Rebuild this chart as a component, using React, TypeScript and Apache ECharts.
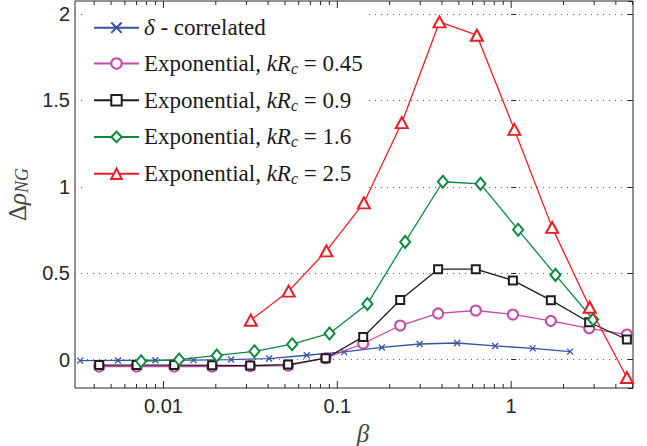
import React, { useEffect, useRef } from 'react';
import * as echarts from 'echarts';

// ---- data (β values and Δρ_NG values) ----
const seriesNames = [
  'δ - correlated',
  'Exponential, kRc = 0.45',
  'Exponential, kRc = 0.9',
  'Exponential, kRc = 1.6',
  'Exponential, kRc = 2.5',
];

const deltaBeta = [0.00332, 0.00548, 0.00899, 0.01489, 0.02451, 0.04055, 0.0667, 0.1094, 0.1804, 0.2977, 0.489, 0.809, 1.329, 2.184];
const deltaVals = [-0.006, -0.005, -0.004, -0.003, 0.0, 0.006, 0.025, 0.044, 0.07, 0.09, 0.096, 0.079, 0.065, 0.046];

const exp045Beta = [0.00427, 0.00701, 0.01153, 0.01906, 0.03155, 0.05212, 0.0857, 0.1409, 0.23, 0.38, 0.626, 1.023, 1.691, 2.81, 4.63];
const exp045Vals = [-0.04, -0.04, -0.04, -0.04, -0.038, -0.035, 0.008, 0.093, 0.197, 0.267, 0.284, 0.261, 0.224, 0.181, 0.145];

const exp09Beta = [0.00427, 0.00701, 0.01153, 0.01906, 0.03155, 0.05212, 0.0857, 0.1409, 0.23, 0.38, 0.626, 1.023, 1.691, 2.81, 4.63];
const exp09Vals = [-0.032, -0.032, -0.032, -0.033, -0.035, -0.029, 0.008, 0.131, 0.345, 0.523, 0.523, 0.458, 0.344, 0.216, 0.116];

const exp16Beta = [0.00744, 0.01231, 0.02027, 0.03337, 0.055, 0.0902, 0.149, 0.2457, 0.4047, 0.666, 1.097, 1.798, 2.963];
const exp16Vals = [-0.01, 0.0, 0.024, 0.048, 0.089, 0.151, 0.322, 0.681, 1.029, 1.017, 0.751, 0.49, 0.232];

const exp25Beta = [0.0318, 0.0525, 0.0866, 0.1422, 0.235, 0.387, 0.635, 1.043, 1.72, 2.83, 4.63];
const exp25Vals = [0.228, 0.396, 0.629, 0.907, 1.371, 1.954, 1.877, 1.332, 0.765, 0.303, -0.104];

// axis ranges
const xMinBeta = 0.0031;
const xMaxBeta = 5.02;
const yMin = -0.1645;
const yMax = 2.075;
const yTickStep = 0.5;
const xDecades = [0.001, 0.01, 0.1, 1];
const xMinorMultipliers = [2, 3, 4, 5, 6, 7, 8, 9];

const colors = ['#3553a5', '#c449a8', '#1e1e1e', '#0c8a3e', '#ee1d25'];

const toXY = (betas: number[], vals: number[]) => betas.map((b, i) => [Math.log10(b), vals[i]]);

export default function App() {
  const ref = useRef<HTMLDivElement>(null);

  useEffect(() => {
    if (!ref.current) return;
    const chart = echarts.init(ref.current, undefined, { renderer: 'svg' });

    const xMin = Math.log10(xMinBeta);
    const xMax = Math.log10(xMaxBeta);

    const tickData: number[][] = [];
    xDecades.forEach((d) => {
      const lv = Math.log10(d);
      if (lv >= xMin && lv <= xMax) tickData.push([lv, 0, 1]);
      xMinorMultipliers.forEach((m) => {
        const v = Math.log10(d * m);
        if (v >= xMin && v <= xMax) tickData.push([v, 0, 0]);
      });
    });

    const serif = 'Liberation Serif';
    const sans = 'Liberation Sans';
    const tickColor = '#262626';

    const lineSeries = (name: string, data: number[][], color: string, symbol: string, symbolSize: any, z: number) => ({
      name,
      type: 'line',
      data,
      symbol,
      symbolSize,
      z,
      lineStyle: { color, width: 1.3 },
      itemStyle: { color, borderColor: color, borderWidth: 1.3 },
      emphasis: { disabled: true },
    });

    const option: any = {
      animation: false,
      grid: {
        left: 75,
        right: 14,
        top: 1,
        bottom: 58,
        show: true,
        borderColor: tickColor,
        borderWidth: 1,
        backgroundColor: 'transparent',
        containLabel: false,
        outerBoundsMode: 'none',
      },
      legend: {
        data: seriesNames,
        orient: 'vertical',
        left: 82,
        top: 9,
        padding: [6.7, 4, 11, 11],
        backgroundColor: '#fff',
        itemWidth: 45,
        itemHeight: 13,
        itemGap: 10.75,
        selectedMode: false,
        formatter: (name: string) =>
          name.replace('δ', '{i|δ}').replace('kRc', '{i|kR}{s|c}'),
        textStyle: {
          fontFamily: serif,
          fontSize: 23,
          color: '#1a1a1a',
          lineHeight: 24,
          rich: {
            i: { fontFamily: serif, fontStyle: 'italic', fontSize: 23, lineHeight: 24, color: '#1a1a1a' },
            s: { fontFamily: serif, fontStyle: 'italic', fontSize: 16, lineHeight: 12, padding: [10, 0, 0, 0], color: '#1a1a1a' },
          },
        },
      },
      xAxis: {
        type: 'value',
        min: xMin,
        max: xMax,
        name: 'β',
        nameLocation: 'middle',
        nameGap: 25,
        nameTextStyle: {
          fontFamily: serif,
          fontStyle: 'italic',
          fontSize: 25,
          color: '#444',
          padding: [0, 0, 0, 18],
        },
        axisLine: { show: false },
        axisTick: { show: false },
        splitLine: { show: false },
        axisLabel: {
          fontFamily: sans,
          fontSize: 20,
          color: tickColor,
          margin: 8,
          showMinLabel: false,
          showMaxLabel: false,
          formatter: (v: number) => {
            if (Math.abs(v - Math.round(v)) > 1e-6) return '';
            const r = Math.round(v);
            return String(parseFloat(Math.pow(10, r).toPrecision(6)));
          },
        },
      },
      yAxis: [
        {
          type: 'value',
          min: yMin,
          max: yMax,
          name: '{d|Δ}{r|ρ}{s|NG}',
          nameLocation: 'middle',
          nameGap: 36,
          nameTextStyle: {
            color: '#444',
            rich: {
              d: { fontFamily: serif, fontSize: 25, lineHeight: 30, color: '#444' },
              r: { fontFamily: serif, fontStyle: 'italic', fontSize: 25, lineHeight: 30, color: '#444' },
              s: { fontFamily: serif, fontStyle: 'italic', fontSize: 18, lineHeight: 16, padding: [10, 0, 0, 0], color: '#444' },
            },
          },
          axisLine: { show: false },
          axisTick: { show: true, inside: true, length: 5, lineStyle: { color: tickColor } },
          splitLine: {
            show: true,
            showMinLine: false,
            showMaxLine: false,
            lineStyle: { color: '#666', width: 1, type: [1, 5] },
          },
          axisLabel: {
            fontFamily: sans,
            fontSize: 20,
            color: tickColor,
            margin: 5,
            showMinLabel: false,
            showMaxLabel: false,
            formatter: (v: number) => {
              const k = v / yTickStep;
              if (Math.abs(k - Math.round(k)) > 1e-6) return '';
              return String(parseFloat((Math.round(k) * yTickStep).toFixed(2)));
            },
          },
        },
        {
          type: 'value',
          min: yMin,
          max: yMax,
          position: 'right',
          axisLine: { show: false },
          axisTick: { show: true, inside: true, length: 5, lineStyle: { color: tickColor } },
          splitLine: { show: false },
          axisLabel: { show: false },
        },
      ],
      series: [
        {
          type: 'custom',
          silent: true,
          clip: false,
          z: 1,
          data: tickData,
          encode: { x: 0, y: 1 },
          renderItem: (params: any, api: any) => {
            const cs = params.coordSys;
            const px = api.coord([api.value(0), 0])[0];
            const len = api.value(2) ? 7 : 4;
            const bottom = cs.y + cs.height;
            const top = cs.y;
            const style = { stroke: tickColor, lineWidth: 1 };
            return {
              type: 'group',
              children: [
                { type: 'line', shape: { x1: px, y1: bottom, x2: px, y2: bottom - len }, style },
                { type: 'line', shape: { x1: px, y1: top, x2: px, y2: top + len }, style },
              ],
            };
          },
        },
        lineSeries(seriesNames[0], toXY(deltaBeta, deltaVals), colors[0], 'path://M0,0L10,10M0,10L10,0', 6, 2),
        lineSeries(seriesNames[1], toXY(exp045Beta, exp045Vals), colors[1], 'emptyCircle', 10, 3),
        lineSeries(seriesNames[2], toXY(exp09Beta, exp09Vals), colors[2], 'emptyRect', 8, 4),
        lineSeries(seriesNames[3], toXY(exp16Beta, exp16Vals), colors[3], 'emptyDiamond', [10, 12], 5),
        lineSeries(seriesNames[4], toXY(exp25Beta, exp25Vals), colors[4], 'emptyTriangle', [12, 11], 6),
      ],
    };

    chart.setOption(option);
    return () => chart.dispose();
  }, []);

  return (
    <div
      ref={ref}
      style={{ position: 'fixed', left: 0, top: 0, width: 647, height: 446, background: '#fff' }}
    />
  );
}
